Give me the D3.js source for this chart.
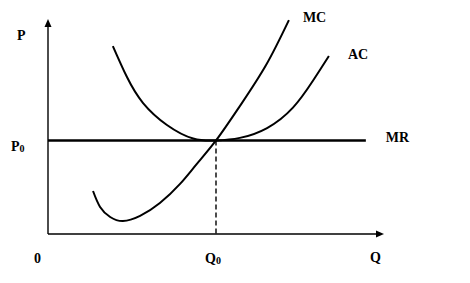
<!DOCTYPE html>
<html>
<head>
<meta charset="utf-8">
<script src="https://cdn.jsdelivr.net/npm/d3@7"></script>
<style>
  body { margin: 0; background: #fff; }
  text { font-family: "Liberation Serif", "Times New Roman", serif; font-weight: bold; font-size: 14px; fill: #000; }
</style>
</head>
<body>
<div id="chart"></div>
<script>
// curve points (Q, P) on a 0-100 scale
var mcQ = [13.4, 15.5, 18.5, 22.3, 27.4, 33.3, 39.3, 44.3, 50, 57.1, 64.9, 71.7];
var mcP = [20.0, 12.6, 7.9, 6.0, 8.4, 14.4, 23.3, 32.6, 43.5, 59.5, 78.6, 99.5];

var acQ = [19.3, 23.5, 28.3, 35.4, 43.2, 50, 57.1, 65.2, 72.9, 78.9, 83.6];
var acP = [87.4, 73.0, 60.9, 50.7, 44.4, 43.5, 44.7, 49.3, 58.8, 71.4, 82.8];

// equilibrium
var p0 = 43.5, q0 = 50;
var mrEnd = 94.6;

// labels
var axisLabels = { p: "P", q: "Q", origin: "0" };
var curveLabels = ["MC", "AC", "MR"];

var width = 470, height = 283;

var x = d3.scaleLinear().domain([0, 100]).range([48, 384]);
var y = d3.scaleLinear().domain([0, 100]).range([234, 19]);

var svg = d3.select("#chart").append("svg")
    .attr("width", width)
    .attr("height", height);

var line = d3.line()
    .x(function(d) { return x(d[0]); })
    .y(function(d) { return y(d[1]); })
    .curve(d3.curveNatural);

var mc = d3.zip(mcQ, mcP),
    ac = d3.zip(acQ, acP);

// axes
svg.append("line")
    .attr("x1", x(0)).attr("y1", y(0))
    .attr("x2", x(0)).attr("y2", y(100) + 7)
    .attr("stroke", "#000").attr("stroke-width", 1.4);
svg.append("line")
    .attr("x1", x(0)).attr("y1", y(0))
    .attr("x2", x(100) - 7).attr("y2", y(0))
    .attr("stroke", "#000").attr("stroke-width", 1.4);

// arrow heads
svg.append("path")
    .attr("d", "M" + x(0) + "," + y(100) + "L" + (x(0) - 3.5) + "," + (y(100) + 8) + "L" + (x(0) + 3.5) + "," + (y(100) + 8) + "Z")
    .attr("fill", "#000");
svg.append("path")
    .attr("d", "M" + x(100) + "," + y(0) + "L" + (x(100) - 8) + "," + (y(0) - 3.5) + "L" + (x(100) - 8) + "," + (y(0) + 3.5) + "Z")
    .attr("fill", "#000");

// dashed drop line at Q0
svg.append("line")
    .attr("x1", x(q0)).attr("y1", y(p0))
    .attr("x2", x(q0)).attr("y2", y(0))
    .attr("stroke", "#000").attr("stroke-width", 1.4)
    .attr("stroke-dasharray", "5,3");

// MR
svg.append("line")
    .attr("x1", x(0)).attr("y1", y(p0))
    .attr("x2", x(mrEnd)).attr("y2", y(p0))
    .attr("stroke", "#000").attr("stroke-width", 2.4);

// cost curves
svg.append("path")
    .datum(mc)
    .attr("d", line)
    .attr("fill", "none").attr("stroke", "#000").attr("stroke-width", 2);
svg.append("path")
    .datum(ac)
    .attr("d", line)
    .attr("fill", "none").attr("stroke", "#000").attr("stroke-width", 2);

// curve labels
var mcEnd = mc[mc.length - 1], acEnd = ac[ac.length - 1];
svg.append("text").attr("x", x(mcEnd[0]) + 14).attr("y", y(mcEnd[1]) + 2).text(curveLabels[0]);
svg.append("text").attr("x", x(acEnd[0]) + 19).attr("y", y(acEnd[1]) + 3).text(curveLabels[1]);
svg.append("text").attr("x", x(mrEnd) + 20).attr("y", y(p0) + 2).text(curveLabels[2]);

// axis labels
svg.append("text").attr("x", x(0) - 31).attr("y", y(100) + 21).text(axisLabels.p);
svg.append("text").attr("x", x(100) - 14).attr("y", y(0) + 28).text(axisLabels.q);
svg.append("text").attr("x", x(0) - 14).attr("y", y(0) + 29).text(axisLabels.origin);

var p0Label = svg.append("text").attr("x", x(0) - 37).attr("y", y(p0) + 11);
p0Label.append("tspan").text(axisLabels.p);
p0Label.append("tspan").attr("dy", 1).style("font-size", "10px").text("0");

var q0Label = svg.append("text").attr("x", x(q0) - 11).attr("y", y(0) + 29);
q0Label.append("tspan").text(axisLabels.q);
q0Label.append("tspan").attr("dy", 1).style("font-size", "10px").text("0");
</script>
</body>
</html>
